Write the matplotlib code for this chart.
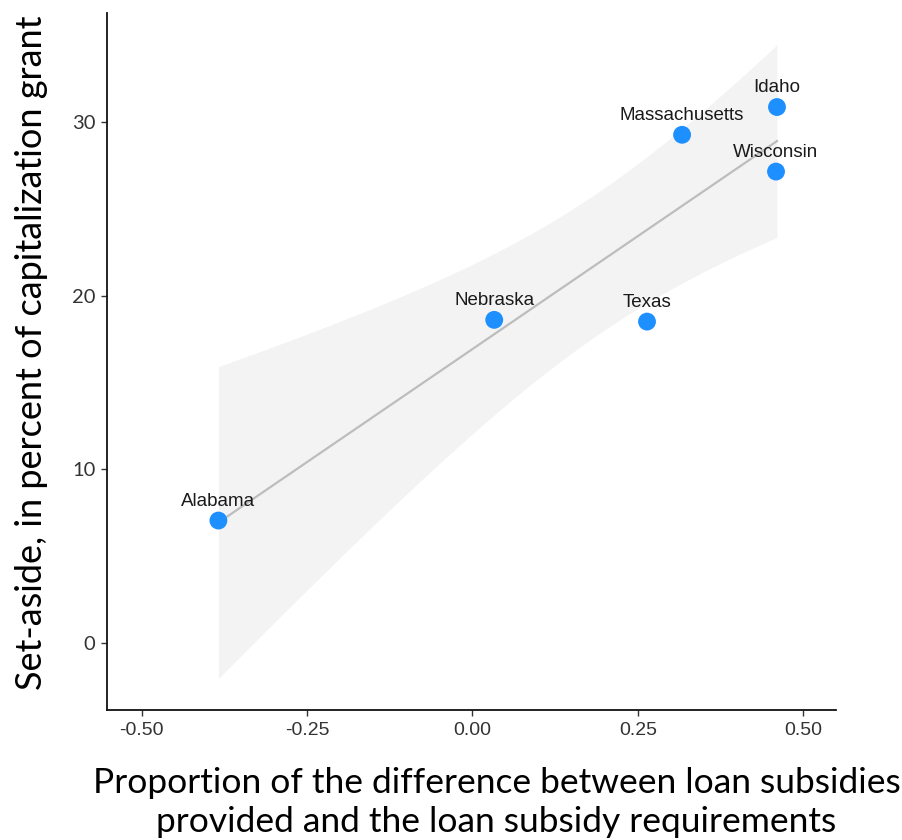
import numpy as np
import matplotlib
matplotlib.use("Agg")
import matplotlib.pyplot as plt

states = ["Alabama", "Nebraska", "Texas", "Massachusetts", "Idaho", "Wisconsin"]
subsidy_diff = [-0.384, 0.033, 0.264, 0.317, 0.4605, 0.459]
set_aside = [7.04, 18.61, 18.51, 29.28, 30.88, 27.16]
x_ticks = [-0.50, -0.25, 0.00, 0.25, 0.50]
x_tick_labels = ["-0.50", "-0.25", "0.00", "0.25", "0.50"]
y_ticks = [0, 10, 20, 30]
y_tick_labels = ["0", "10", "20", "30"]
T_975_DF4 = 2.776

x = np.array(subsidy_diff)
y = np.array(set_aside)

fig = plt.figure(figsize=(9.03, 8.4), dpi=100)
ax = fig.add_axes([0.1188, 0.1548, 0.9258 - 0.1188, 0.9845 - 0.1548])

# linear fit with 95% CI
n = len(x)
xm = x.mean()
sxx = ((x - xm) ** 2).sum()
b = ((x - xm) * (y - y.mean())).sum() / sxx
a = y.mean() - b * xm
resid = y - (a + b * x)
s = np.sqrt((resid ** 2).sum() / (n - 2))
xs = np.linspace(x.min(), x.max(), 80)
fit = a + b * xs
se = s * np.sqrt(1.0 / n + (xs - xm) ** 2 / sxx)
ax.fill_between(xs, fit - T_975_DF4 * se, fit + T_975_DF4 * se, color="#F3F3F3", lw=0, zorder=1)
ax.plot(xs, fit, color="#BDBDBD", lw=1.6, zorder=2)

ax.scatter(x, y, s=165, color="#1E8FFF", edgecolors="none", zorder=3)
for name, xi, yi in zip(states, x, y):
    ax.annotate(name, (xi, yi), xytext=(0, 14), textcoords="offset points",
                ha="center", va="center", fontsize=13.5, family="Liberation Sans",
                color="#1a1a1a", zorder=4)

ax.set_xlim(-0.552, 0.5497)
ax.set_ylim(-3.88, 36.3)
ax.set_xticks(x_ticks)
ax.set_xticklabels(x_tick_labels, family="Liberation Sans", fontsize=14, color="#333333")
ax.set_yticks(y_ticks)
ax.set_yticklabels(y_tick_labels, family="Lato", fontsize=14.5, color="#333333")
ax.tick_params(length=4.5, width=1, color="#333333", pad=4)

for sp in ["top", "right"]:
    ax.spines[sp].set_visible(False)
for sp in ["left", "bottom"]:
    ax.spines[sp].set_linewidth(1.3)
    ax.spines[sp].set_color("#111111")

ax.set_ylabel("Set-aside, in percent of capitalization grant", family="Lato",
              fontsize=26, labelpad=17)
ax.yaxis.label.set_y(0.512)
ax.set_xlabel("Proportion of the difference between loan subsidies\nprovided and the loan subsidy requirements",
              family="Lato", fontsize=25.5, labelpad=20, linespacing=1.3)
ax.xaxis.label.set_x(0.534)

fig.savefig("out.png", dpi=100, facecolor="white")
